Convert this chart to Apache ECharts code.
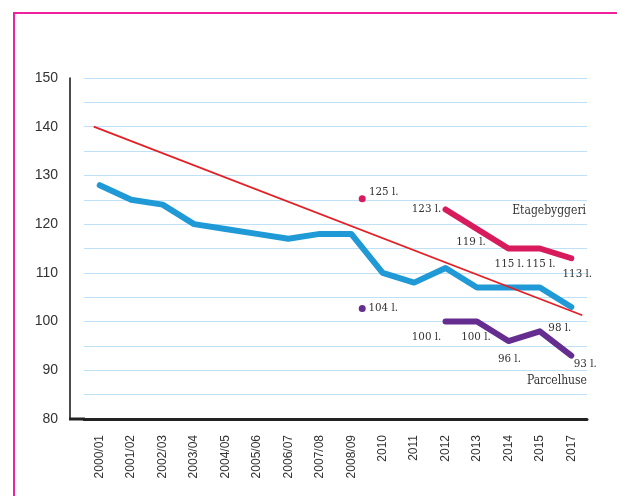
<!DOCTYPE html>
<html>
<head>
<meta charset="utf-8">
<script src="https://cdn.jsdelivr.net/npm/echarts@6/dist/echarts.min.js"></script>
<style>
  html, body { margin: 0; padding: 0; background: #fff; }
  #wrap { position: relative; width: 617px; height: 496px; overflow: hidden; }
  #frame { position: absolute; left: 13px; top: 12px; width: 700px; height: 600px;
           border-left: 2px solid #f0219d; border-top: 2px solid #f0219d; box-sizing: border-box; }
  #chart { position: absolute; left: 0; top: 0; width: 617px; height: 496px; }
</style>
</head>
<body>
<div id="wrap">
  <div id="frame"></div>
  <div id="chart"></div>
</div>
<script>
// ---- data ----
const categories = ['2000/01','2001/02','2002/03','2003/04','2004/05','2005/06','2006/07','2007/08','2008/09','2010','2011','2012','2013','2014','2015','2017'];
const totalValues = [128,125,124,120,119,118,117,118,118,110,108,111,107,107,107,103];
const etageValues = [null,null,null,null,null,null,null,null,null,null,null,123,119,115,115,113];
const etageLabels = [null,null,null,null,null,null,null,null,null,null,null,'123 l.','119 l.','115 l.','115 l.','113 l.'];
const parcelValues = [null,null,null,null,null,null,null,null,null,null,null,100,100,96,98,93];
const parcelLabels = [null,null,null,null,null,null,null,null,null,null,null,'100 l.','100 l.','96 l.','98 l.','93 l.'];
const trendPoints = [[-0.19,140],[15.35,101.3]];
const etageDot = [8.35,125.2];
const etageDotLabel = '125 l.';
const parcelDot = [8.35,102.7];
const parcelDotLabel = '104 l.';
const seriesNames = ['Etagebyggeri','Parcelhuse'];
const yMin = 80, yMax = 150, yStep = 5;

// ---- styling / placement ----
const labelFont = '"DejaVu Serif Condensed", "DejaVu Serif", serif';
const labelColor = '#333';
const etageOffsets = {11:[-19,-1],12:[-6,13],13:[1,16],14:[1,16],15:[6,16]};
const parcelOffsets = {11:[-19,15],12:[-1,15],13:[1,18],14:[20,-3],15:[14,8]};

function buildData(values, labels, offsets) {
  return values.map((v, i) => {
    if (v === null) return null;
    const o = offsets[i];
    return {
      value: v,
      label: {
        show: true, formatter: labels[i], position: 'inside',
        offset: o, align: 'center', verticalAlign: 'middle'
      }
    };
  });
}

const baseLabel = { fontFamily: labelFont, fontSize: 11.5, color: labelColor };

const gridL = 84, gridR = 30, gridT = 78, gridB = 77, yOff = 14;

const chart = echarts.init(document.getElementById('chart'), null, { renderer: 'canvas' });
chart.setOption({
  animation: false,
  backgroundColor: 'transparent',
  grid: { left: gridL, right: gridR, top: gridT, bottom: gridB, containLabel: false },
  xAxis: [{
    type: 'category', data: categories, boundaryGap: true,
    axisLine: { show: true, onZero: false, lineStyle: { color: '#222', width: 3 } },
    axisTick: { show: false },
    axisLabel: { rotate: 90, margin: 16, interval: 0, fontFamily: 'Liberation Sans', fontSize: 12, color: '#333' },
    splitLine: { show: false }
  }, {
    type: 'value', min: -0.5, max: 15.5, show: false
  }],
  yAxis: {
    type: 'value', min: yMin, max: yMax, interval: yStep, offset: yOff,
    axisLine: { show: true, onZero: false, lineStyle: { color: '#111', width: 1.5 } },
    axisTick: { show: false },
    axisLabel: { margin: 12, fontFamily: 'Liberation Sans', fontSize: 14, color: '#333',
      formatter: v => (v % 10 === 0 ? String(v) : '') },
    splitLine: { show: true, lineStyle: { color: '#bfe1f5', width: 1.2 } }
  },
  graphic: [
    { type: 'line', z: 100, shape: { x1: gridL - yOff - 1, y1: 496 - gridB, x2: gridL + 1, y2: 496 - gridB },
      style: { stroke: '#222', lineWidth: 3 } },
    { type: 'text', right: 617 - 586, top: 205, z: 100,
      style: { text: seriesNames[0], font: '12px ' + labelFont, fill: labelColor } },
    { type: 'text', right: 617 - 587, top: 375, z: 100,
      style: { text: seriesNames[1], font: '12px ' + labelFont, fill: labelColor } }
  ],
  series: [
    {
      type: 'line', name: 'Total', data: totalValues, xAxisIndex: 0,
      symbol: 'none', lineStyle: { color: '#1f9ad6', width: 6, cap: 'round', join: 'round' }, z: 3
    },
    {
      type: 'line', name: 'Trend', data: trendPoints, xAxisIndex: 1,
      symbol: 'none', lineStyle: { color: '#e41f26', width: 1.8 }, z: 4
    },
    {
      type: 'line', name: seriesNames[0], data: buildData(etageValues, etageLabels, etageOffsets), xAxisIndex: 0,
      symbol: 'circle', symbolSize: 0.01, showSymbol: true, itemStyle: { color: '#d81b5c' },
      label: baseLabel,
      lineStyle: { color: '#d81b5c', width: 6, cap: 'round', join: 'round' }, z: 5
    },
    {
      type: 'line', name: seriesNames[1], data: buildData(parcelValues, parcelLabels, parcelOffsets), xAxisIndex: 0,
      symbol: 'circle', symbolSize: 0.01, showSymbol: true, itemStyle: { color: '#652d90' },
      label: baseLabel,
      lineStyle: { color: '#652d90', width: 6, cap: 'round', join: 'round' }, z: 5
    },
    {
      type: 'scatter', data: [etageDot], xAxisIndex: 1, symbolSize: 7,
      itemStyle: { color: '#d81b5c', opacity: 1 },
      label: Object.assign({}, baseLabel, { show: true, formatter: etageDotLabel, position: 'inside', offset: [21.5, -7], align: 'center', verticalAlign: 'middle' }),
      z: 6
    },
    {
      type: 'scatter', data: [parcelDot], xAxisIndex: 1, symbolSize: 7,
      itemStyle: { color: '#652d90', opacity: 1 },
      label: Object.assign({}, baseLabel, { show: true, formatter: parcelDotLabel, position: 'inside', offset: [21, 0], align: 'center', verticalAlign: 'middle' }),
      z: 6
    }
  ]
});
</script>
</body>
</html>
